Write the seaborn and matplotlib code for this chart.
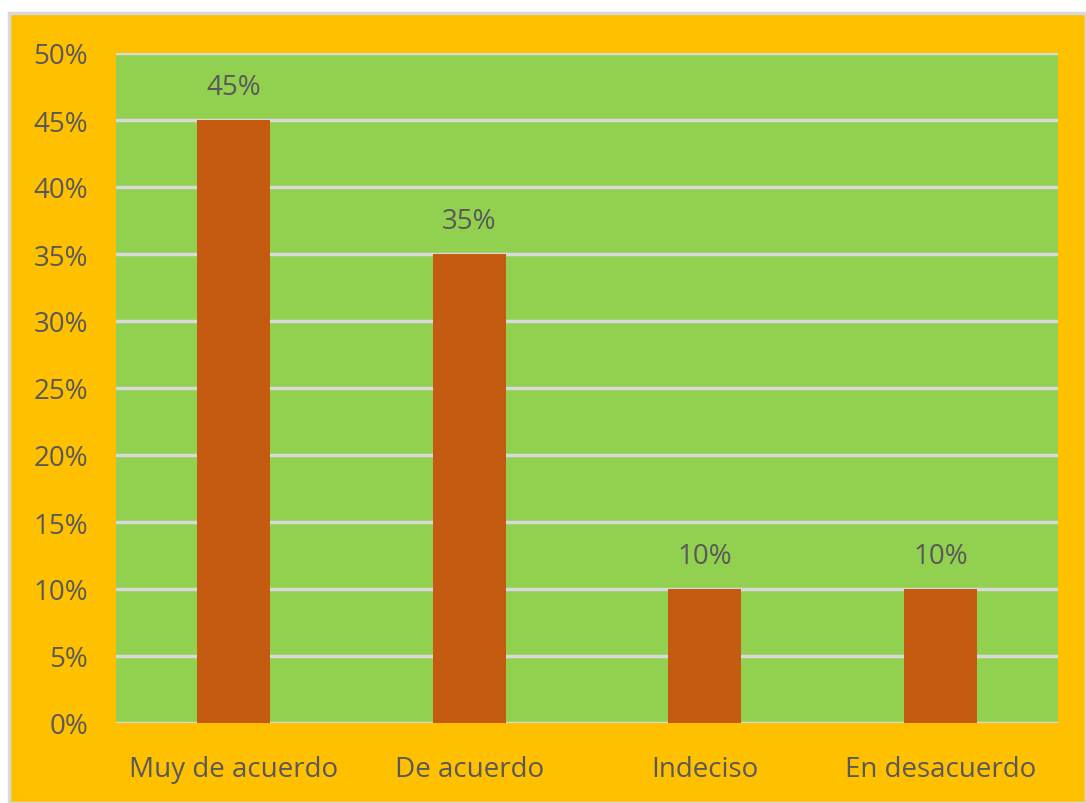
import matplotlib
matplotlib.use("Agg")
import matplotlib.pyplot as plt
from matplotlib.patches import Rectangle
import seaborn as sns
import pandas as pd

categories = ["Muy de acuerdo", "De acuerdo", "Indeciso", "En desacuerdo"]
values = [45, 35, 10, 10]
y_ticks = [0, 5, 10, 15, 20, 25, 30, 35, 40, 45, 50]

df = pd.DataFrame({"categoria": categories, "porcentaje": values})

sns.set_theme(style="white")
plt.rcParams["font.family"] = ["Open Sans", "DejaVu Sans"]

text_color = "#595959"
fig = plt.figure(figsize=(10.86, 8.04), dpi=100)
fig.patch.set_facecolor("white")

# Orange chart area with thin grey frame
fig.patches.append(Rectangle((9 / 1086, 0), 1 - 9 / 1086, 1 - 14 / 804,
                             transform=fig.transFigure, facecolor="#FFC000",
                             edgecolor="#D9D9D9", linewidth=2.5, zorder=-5))

ax = fig.add_axes([116 / 1086, 1 - 724 / 804, 942 / 1086, 670 / 804])
ax.set_facecolor("#92D050")
ax.set_zorder(1)

sns.barplot(data=df, x="categoria", y="porcentaje", color="#C55A11",
            width=0.31, saturation=1, linewidth=0, ax=ax, zorder=3)

ax.set_ylim(0, 50)
ax.set_yticks(y_ticks)
ax.set_yticklabels([f"{t}%" for t in y_ticks])
ax.set_xlim(-0.5, len(categories) - 0.5)
ax.yaxis.grid(True, color="#D9D9D9", linewidth=2.5, zorder=1)
ax.set_axisbelow(True)
for s in ax.spines.values():
    s.set_visible(False)
ax.tick_params(axis="both", length=0, labelsize=20, colors=text_color)
ax.tick_params(axis="x", pad=23)
ax.tick_params(axis="y", pad=20)
ax.set_xlabel("")
ax.set_ylabel("")

for i, v in enumerate(values):
    ax.annotate(f"{v}%", (i, v), xytext=(0, 24), textcoords="offset points",
                ha="center", va="center", fontsize=20, color=text_color)

fig.savefig("out.png", dpi=100)
